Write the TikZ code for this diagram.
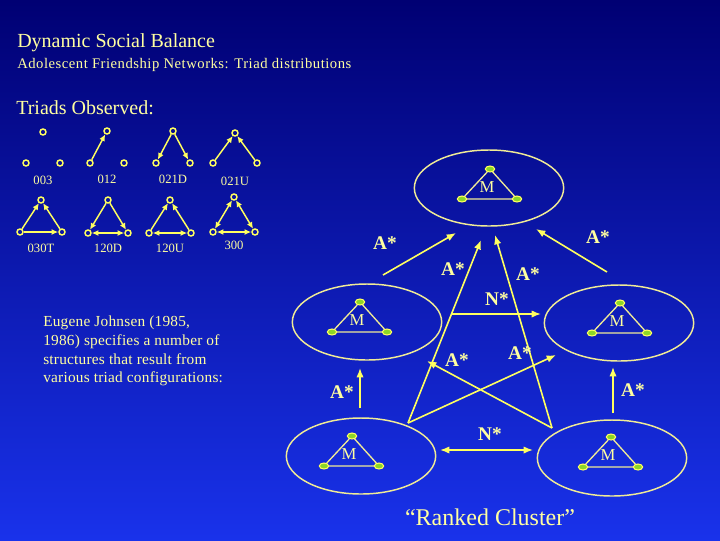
\documentclass[tikz,border=0pt]{standalone}
\usepackage{fontspec}
\setmainfont{Liberation Serif}
\usetikzlibrary{shapes.geometric,arrows.meta}

\definecolor{bgtop}{RGB}{0,0,115}
\definecolor{bgmid}{RGB}{5,15,205}
\definecolor{bgbot}{RGB}{25,50,235}
\definecolor{txt}{RGB}{255,255,160}
\definecolor{arr}{RGB}{255,255,95}
\definecolor{ring}{RGB}{240,235,150}
\definecolor{lime}{RGB}{140,215,40}

\tikzset{
  dot/.style={circle,draw=arr,line width=1.1pt,inner sep=0pt,minimum size=4.5pt},
  tarr/.style={draw=arr,line width=1.1pt,-{Latex[length=5pt,width=4.5pt]}},
  tboth/.style={tarr,{Latex[length=5pt,width=4.5pt]}-{Latex[length=5pt,width=4.5pt]}},
  tlab/.style={text=txt,font=\fontsize{9.5}{11}\selectfont,inner sep=0pt},
  clus/.style={ellipse,draw=ring,line width=1.1pt,minimum width=112pt,minimum height=57pt,inner sep=0pt},
  mini/.style={ellipse,draw=arr,fill=lime,line width=0.8pt,minimum width=7pt,minimum height=4.5pt,inner sep=0pt},
  side/.style={draw=ring,line width=1pt},
  mlab/.style={text=txt,font=\fontsize{12.5}{14}\selectfont,inner sep=0pt},
  bigarr/.style={draw=arr,line width=1.2pt,-{Latex[length=7pt,width=5.5pt]}},
  bigboth/.style={bigarr,{Latex[length=7pt,width=5.5pt]}-{Latex[length=7pt,width=5.5pt]}},
  alab/.style={text=txt,font=\fontsize{14.5}{16}\selectfont\bfseries,inner sep=0pt}
}

\begin{document}
\begin{tikzpicture}[x=0.75pt,y=-0.75pt]
  \shade[top color=bgtop,middle color=bgmid,bottom color=bgbot] (0,0) rectangle (720,540);
  \useasboundingbox (0,0) rectangle (720,540);

  \node[text=txt,anchor=base west,inner sep=0pt,font=\fontsize{15}{18}\selectfont] (title) at (17,47) {Dynamic Social Balance};
  \node[text=txt,anchor=base west,inner sep=0pt,font=\fontsize{11}{13}\selectfont\addfontfeatures{LetterSpace=3.5}] (sub) at (17,68) {Adolescent Friendship Networks: Triad distributions};
  \node[text=txt,anchor=base west,inner sep=0pt,font=\fontsize{15}{18}\selectfont] (obs) at (16,114) {Triads Observed:};

  % triad census
  \foreach \n/\x/\y/\w/\h in {003/43/132/17/31, 012/107/131/17/32, 021D/173/131/17/32, 021U/235/133/22/30,
                               030T/41/200/21/32, 120D/108/200/20/33, 120U/170/200/21/33, 300/234/197/21/35} {
    \node[dot] (t\n-t) at (\x,\y) {};
    \node[dot] (t\n-l) at (\x-\w,\y+\h) {};
    \node[dot] (t\n-r) at (\x+\w,\y+\h) {};
    \node[tlab] (t\n-lab) at (\x,\y+48) {\n};
  }
  \draw[tarr] (t012-l) -- (t012-t);
  \draw[tarr] (t021D-t) -- (t021D-l);
  \draw[tarr] (t021D-t) -- (t021D-r);
  \draw[tarr] (t021U-l) -- (t021U-t);
  \draw[tarr] (t021U-r) -- (t021U-t);
  \draw[tarr] (t030T-l) -- (t030T-t);
  \draw[tarr] (t030T-r) -- (t030T-t);
  \draw[tarr] (t030T-l) -- (t030T-r);
  \draw[tarr] (t120D-t) -- (t120D-l);
  \draw[tarr] (t120D-t) -- (t120D-r);
  \draw[tboth] (t120D-l) -- (t120D-r);
  \draw[tarr] (t120U-l) -- (t120U-t);
  \draw[tarr] (t120U-r) -- (t120U-t);
  \draw[tboth] (t120U-l) -- (t120U-r);
  \draw[tboth] (t300-l) -- (t300-t);
  \draw[tboth] (t300-r) -- (t300-t);
  \draw[tboth] (t300-l) -- (t300-r);

  \node[text=txt,anchor=north west,inner sep=0pt,align=left,font=\fontsize{11.5}{14}\selectfont\addfontfeatures{LetterSpace=1.5}] (note) at (43,316)
    {Eugene Johnsen (1985,\\1986) specifies a number of\\structures that result from\\various triad configurations:};

  % ranked cluster
  \foreach \n/\ex/\ey/\tx/\ty in {top/489/188/490/169, midL/367/322/360/302, midR/619/323/620/303,
                                   botL/361/456/352/436, botR/612/458/611/437} {
    \node[clus] (\n) at (\ex,\ey) {};
    \node[mini] (\n-a) at (\tx,\ty) {};
    \node[mini] (\n-b) at (\tx-28,\ty+30) {};
    \node[mini] (\n-c) at (\tx+27,\ty+30) {};
    \draw[side] (\n-a) -- (\n-b) -- (\n-c) -- (\n-a);
    \node[mlab] (\n-m) at (\tx-3,\ty+18) {M};
  }

  \coordinate (ml1) at (383,275); \coordinate (tp1) at (456,233);
  \coordinate (mr1) at (607,272); \coordinate (tp2) at (536,229);
  \coordinate (bl) at (408,423);  \coordinate (tp3) at (481,240);
  \coordinate (br) at (552,428);  \coordinate (tp4) at (495,235);
  \coordinate (n1) at (451,314);  \coordinate (n2) at (541,314);
  \coordinate (mr2) at (556,355); \coordinate (ml2) at (427,361);
  \coordinate (bl2) at (360,408); \coordinate (ml3) at (360,368);
  \coordinate (br2) at (613,413); \coordinate (mr3) at (613,367);
  \coordinate (bl3) at (440,450); \coordinate (br3) at (533,450);

  \draw[bigarr] (ml1) -- (tp1);
  \draw[bigarr] (mr1) -- (tp2);
  \draw[bigarr] (bl) -- (tp3);
  \draw[bigarr] (br) -- (tp4);
  \draw[bigarr] (n1) -- (n2);
  \draw[bigarr] (bl) -- (mr2);
  \draw[bigarr] (br) -- (ml2);
  \draw[bigarr] (bl2) -- (ml3);
  \draw[bigarr] (br2) -- (mr3);
  \draw[bigboth] (bl3) -- (br3);

  \node[alab] at (385,243) {A*};
  \node[alab] at (598,237) {A*};
  \node[alab] at (453,269) {A*};
  \node[alab] at (528,274) {A*};
  \node[alab] at (497,299) {N*};
  \node[alab] at (520,353) {A*};
  \node[alab] at (457,360) {A*};
  \node[alab] at (342,392) {A*};
  \node[alab] at (633,390) {A*};
  \node[alab] at (490,434) {N*};

  \node[text=txt,inner sep=0pt,font=\fontsize{18}{20}\selectfont] (rc) at (490,517) {``Ranked Cluster''};
\end{tikzpicture}
\end{document}
